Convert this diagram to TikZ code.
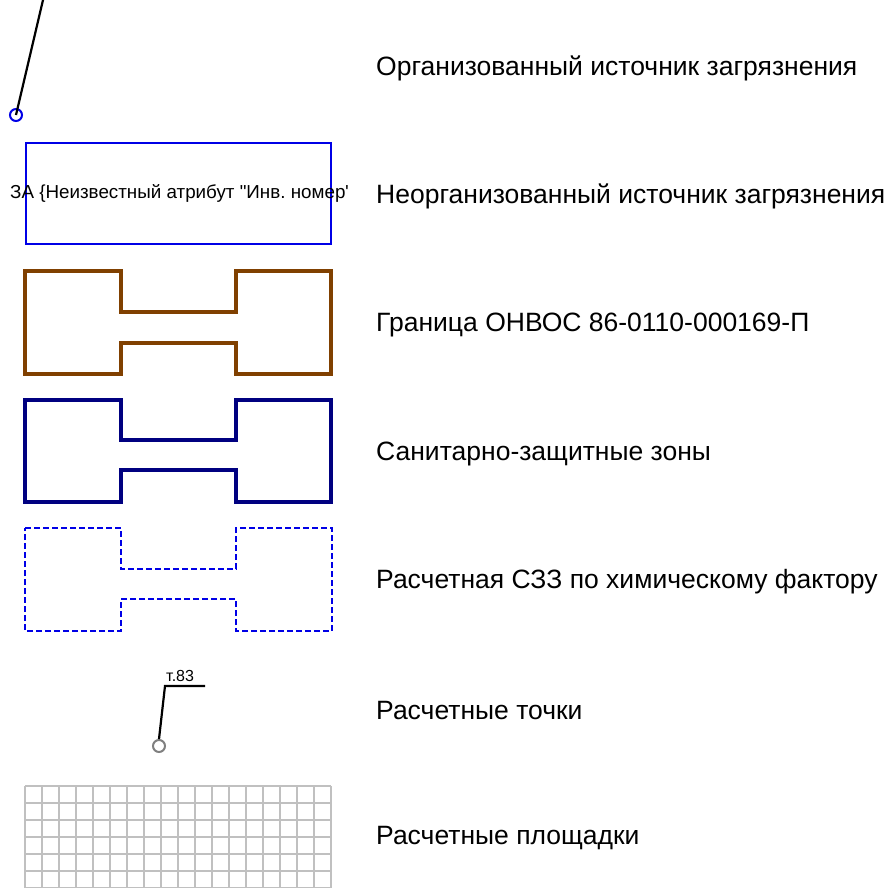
\documentclass[tikz,border=0pt]{standalone}
\usepackage{fontspec}
\setmainfont{Liberation Sans}[Ligatures=TeXOff]
\frenchspacing
\definecolor{srcblue}{RGB}{0, 0, 230}
\definecolor{bordbrown}{RGB}{128, 64, 0}
\definecolor{szznavy}{RGB}{0, 0, 128}
\definecolor{gridgray}{RGB}{192, 192, 192}
\definecolor{ptgray}{RGB}{128, 128, 128}
\begin{document}
\begin{tikzpicture}[x=1pt, y=-1pt,
    legend/.style={anchor=west, inner sep=0pt, font=\fontsize{26.5}{30}\selectfont},
    hshape/.style={line join=miter}
  ]
  \useasboundingbox (0,0) rectangle (894,887);
  % organised source
  \coordinate (srctop) at (43,0);
  \node[draw=srcblue, circle, line width=2pt, minimum size=12pt, inner sep=0pt] (src) at (16,115) {};
  \draw[line width=2.2pt] (srctop) -- (src.center);
  \node[legend] (lbl1) at (376,68) {Организованный источник загрязнения};
  % unorganised source
  \node[draw=srcblue, line width=1.8pt, minimum width=305pt, minimum height=101pt, inner sep=0pt] (area) at (178.5,193.5) {};
  \begin{scope}
    \clip (0,150) rectangle (348,240);
    \node[anchor=west, inner sep=0pt, font=\fontsize{18.8}{22}\selectfont] (areatxt) at (10,193) {ЗА \{Неизвестный атрибут "Инв. номер"};
  \end{scope}
  \node[legend] (lbl2) at (376,196) {Неорганизованный источник загрязнения};
  % border
  \draw[hshape, draw=bordbrown, line width=3.2pt] (25,271) -- (121,271) -- (121,312) -- (236,312) -- (236,271) -- (331,271)
    -- (331,374) -- (236,374) -- (236,343) -- (121,343) -- (121,374) -- (25,374) -- cycle;
  \node[legend] (lbl3) at (376,325) {Граница ОНВОС 86-0110-000169-П};
  % sanitary zones
  \draw[hshape, draw=szznavy, line width=3.2pt] (25,400) -- (121,400) -- (121,440) -- (236,440) -- (236,400) -- (331,400)
    -- (331,502) -- (236,502) -- (236,470) -- (121,470) -- (121,502) -- (25,502) -- cycle;
  \node[legend] (lbl4) at (376,454) {Санитарно-защитные зоны};
  % calculated zone
  \draw[hshape, draw=srcblue, line width=2.2pt, dash pattern=on 6pt off 3pt] (25,528) -- (121,528) -- (121,569) -- (236,569) -- (236,528) -- (332,528)
    -- (332,631) -- (236,631) -- (236,599) -- (121,599) -- (121,631) -- (25,631) -- cycle;
  \node[legend] (lbl5) at (376,582) {Расчетная СЗЗ по химическому фактору};
  % calculated points
  \node[draw=ptgray, circle, line width=2pt, minimum size=12pt, inner sep=0pt] (pt) at (159,746) {};
  \coordinate (ptknee) at (165,686);
  \coordinate (ptend) at (205,686);
  \draw[line width=2.2pt] (pt.north) -- (ptknee) -- (ptend);
  \node[anchor=south west, inner sep=0pt, font=\fontsize{16}{19}\selectfont] (ptname) at (166,682) {т.83};
  \node[legend] (lbl6) at (376,710) {Расчетные точки};
  % calculated grids
  \begin{scope}
    \clip (20,780) rectangle (340,887);
    \foreach \gx in {0,...,18}
      \draw[gridgray, line width=2.5pt] (25+17*\gx,786) -- (25+17*\gx,895);
    \foreach \gy in {0,...,6}
      \draw[gridgray, line width=2.5pt] (25,786+17*\gy) -- (331,786+17*\gy);
  \end{scope}
  \node[legend] (lbl7) at (376,838) {Расчетные площадки};
\end{tikzpicture}
\end{document}
